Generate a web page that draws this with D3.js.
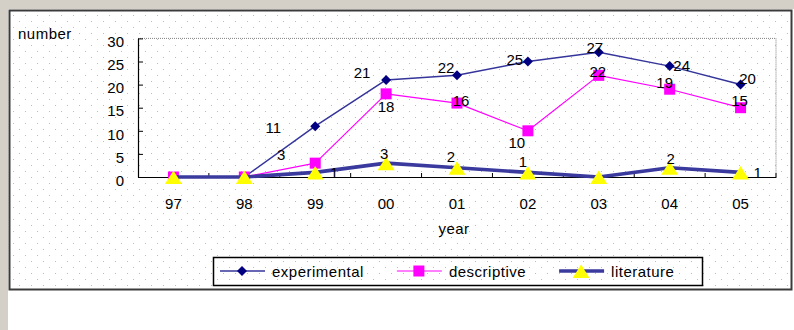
<!DOCTYPE html>
<html>
<head>
<meta charset="utf-8">
<script src="https://cdn.jsdelivr.net/npm/d3@7/dist/d3.min.js"></script>
<style>
  html, body { margin: 0; padding: 0; background: #ffffff; }
  svg { display: block; }
  text { font-family: "Liberation Sans", Arial, sans-serif; font-size: 15px; fill: #000; }
  .word { letter-spacing: 0.5px; }
</style>
</head>
<body>
<svg id="chart" width="794" height="330"></svg>
<script>
// Publications per year, by type
const categories = ["97", "98", "99", "00", "01", "02", "03", "04", "05"];
const experimental = [0, 0, 11, 21, 22, 25, 27, 24, 20];
const descriptive = [0, 0, 3, 18, 16, 10, 22, 19, 15];
const literature = [0, 0, 1, 3, 2, 1, 0, 2, 1];
const yTicks = [0, 5, 10, 15, 20, 25, 30];

// Where each value label sits relative to its point (dx, dy)
const labelOffsets = {
  experimental: { "99": [-42, 1], "00": [-24, -7], "01": [-11, -8], "02": [-13, -2], "03": [-4, -5], "04": [12, -1], "05": [7, -6] },
  descriptive:  { "99": [-34, -9], "00": [0, 13], "01": [4, -3], "02": [-11, 12], "03": [-1, -4], "04": [-5, -7], "05": [-1, -7] },
  literature:   { "99": [19, 0], "00": [-2, -10], "01": [-6, -11], "02": [-5, -11], "04": [1, -9], "05": [17, 0] }
};

const svg = d3.select("#chart");

// Dotted backdrop
const defs = svg.append("defs");
const pat = defs.append("pattern").attr("id", "dots")
  .attr("patternUnits", "userSpaceOnUse").attr("width", 12).attr("height", 12)
  .attr("x", 1).attr("y", 3);
pat.append("rect").attr("x", 0).attr("y", 0).attr("width", 1).attr("height", 1).attr("fill", "#bdbdbd");
pat.append("rect").attr("x", 6).attr("y", 6).attr("width", 1).attr("height", 1).attr("fill", "#bdbdbd");

// Window chrome around the chart
svg.append("rect").attr("x", 0).attr("y", 0).attr("width", 794).attr("height", 9).attr("fill", "#d4d0c8");
svg.append("rect").attr("x", 0).attr("y", 0).attr("width", 8).attr("height", 330).attr("fill", "#d4d0c8");

// Chart area
svg.append("rect").attr("x", 9.5).attr("y", 10.5).attr("width", 782).attr("height", 279)
  .attr("fill", "#fff");
svg.append("rect").attr("x", 9.5).attr("y", 10.5).attr("width", 782).attr("height", 279)
  .attr("fill", "url(#dots)").attr("stroke", "#3a3a3a").attr("stroke-width", 2);

const plot = { left: 138, right: 776, top: 38.4, bottom: 177 };

const x = d3.scaleBand().domain(categories).range([plot.left, plot.right]);
const y = d3.scaleLinear().domain([0, 30]).range([plot.bottom, plot.top]);
const cx = c => x(c) + x.bandwidth() / 2;

// Plot frame: dotted top and right edges
svg.append("path")
  .attr("d", `M${plot.left},${plot.top}H${plot.right}V${plot.bottom}`)
  .attr("fill", "none").attr("stroke", "#808080").attr("stroke-width", 1)
  .attr("stroke-dasharray", "1,1");

// Y axis
const yAxis = svg.append("g").attr("transform", `translate(${plot.left},0)`)
  .call(d3.axisLeft(y).tickValues(yTicks).tickSizeInner(-5).tickSizeOuter(0).tickPadding(14));
yAxis.select(".domain").attr("stroke", "#000").attr("stroke-width", 1.2);
yAxis.selectAll(".tick line").attr("stroke", "#000");
yAxis.selectAll(".tick text").attr("font-family", null).attr("font-size", null).attr("dy", "0.55em");

// X axis: labels centred on categories, ticks at category boundaries
const xAxis = svg.append("g").attr("transform", `translate(0,${plot.bottom})`)
  .call(d3.axisBottom(x).tickSize(0).tickPadding(21));
xAxis.select(".domain").attr("stroke", "#000").attr("stroke-width", 1.2);
xAxis.selectAll(".tick text").attr("font-family", null).attr("font-size", null);
const bounds = categories.slice(1).map(c => x(c)).concat([plot.right]);
svg.append("g").selectAll("line").data(bounds).join("line")
  .attr("x1", d => d).attr("x2", d => d)
  .attr("y1", plot.bottom).attr("y2", plot.bottom - 4)
  .attr("stroke", "#000").attr("stroke-width", 1);

// Axis titles
svg.append("text").attr("class", "word").attr("x", 18).attr("y", 39).text("number");
svg.append("text").attr("class", "word").attr("x", 454).attr("y", 234)
  .attr("text-anchor", "middle").text("year");

// Marker shapes
const diamond = (px, py) => `M${px},${py - 5}L${px + 5},${py}L${px},${py + 5}L${px - 5},${py}Z`;
const square = (px, py) => `M${px - 5.5},${py - 5.5}h11v11h-11Z`;
const triangle = (px, py) => `M${px},${py - 6.5}L${px + 8.5},${py + 7}L${px - 8.5},${py + 7}Z`;

const series = [
  { key: "experimental", name: "experimental", values: experimental, line: "#34349a", width: 1.5, marker: diamond, fill: "#000080" },
  { key: "descriptive", name: "descriptive", values: descriptive, line: "#ff00ff", width: 1.2, marker: square, fill: "#ff00ff" },
  { key: "literature", name: "literature", values: literature, line: "#3a3a9e", width: 3.6, marker: triangle, fill: "#ffff00" }
];

const lineGen = d3.line().x(d => cx(d.c)).y(d => y(d.v));

series.forEach(s => {
  const pts = categories.map((c, i) => ({ c, v: s.values[i] }));
  const g = svg.append("g");
  g.append("path").datum(pts).attr("d", lineGen)
    .attr("fill", "none").attr("stroke", s.line).attr("stroke-width", s.width)
    .attr("stroke-linejoin", "round");
  g.selectAll("path.mk").data(pts).join("path").attr("class", "mk")
    .attr("d", d => s.marker(cx(d.c), y(d.v))).attr("fill", s.fill);
});

// Value labels (zero values are left unlabelled)
series.forEach(s => {
  const offs = labelOffsets[s.key];
  const pts = categories.map((c, i) => ({ c, v: s.values[i] })).filter(d => d.v !== 0);
  svg.append("g").selectAll("text").data(pts).join("text")
    .attr("x", d => cx(d.c) + (offs[d.c] || [0, -10])[0])
    .attr("y", d => y(d.v) + (offs[d.c] || [0, -10])[1])
    .attr("text-anchor", "middle").attr("dominant-baseline", "central")
    .text(d => d.v);
});

// Legend
const legend = svg.append("g");
legend.append("rect").attr("x", 213.5).attr("y", 257.5).attr("width", 489).attr("height", 28)
  .attr("fill", "none").attr("stroke", "#000").attr("stroke-width", 1.5);
let lx = 220;
const ly = 271;
series.forEach(s => {
  legend.append("line").attr("x1", lx).attr("x2", lx + 45).attr("y1", ly).attr("y2", ly)
    .attr("stroke", s.line).attr("stroke-width", s.width);
  legend.append("path").attr("d", s.marker(lx + 22, ly)).attr("fill", s.fill);
  const t = legend.append("text").attr("class", "word").attr("x", lx + 52).attr("y", ly)
    .attr("dominant-baseline", "central").text(s.name);
  lx = lx + 52 + t.node().getComputedTextLength() + 33;
});
</script>
</body>
</html>
